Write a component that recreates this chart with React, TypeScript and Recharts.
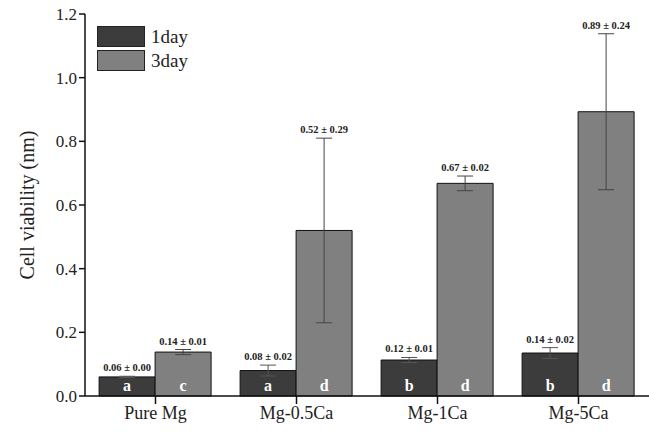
import React from 'react';
import { BarChart, Bar, XAxis, YAxis, ErrorBar, LabelList, Label } from 'recharts';

const categories = ['Pure Mg', 'Mg-0.5Ca', 'Mg-1Ca', 'Mg-5Ca'];
const day1 = [0.06, 0.08, 0.113, 0.135];
const day3 = [0.138, 0.52, 0.668, 0.893];
const err1 = [0.002, 0.017, 0.008, 0.017];
const err3 = [0.008, 0.29, 0.023, 0.245];
const text1 = ['0.06 ± 0.00', '0.08 ± 0.02', '0.12 ± 0.01', '0.14 ± 0.02'];
const text3 = ['0.14 ± 0.01', '0.52 ± 0.29', '0.67 ± 0.02', '0.89 ± 0.24'];
const letters1 = ['a', 'a', 'b', 'b'];
const letters3 = ['c', 'd', 'd', 'd'];
const yTicks = [0, 0.2, 0.4, 0.6, 0.8, 1.0, 1.2];
const seriesNames = ['1day', '3day'];

const data = categories.map((c, i) => ({
  name: c,
  d1: day1[i],
  d3: day3[i],
  e1: err1[i],
  e3: err3[i],
}));

const FONT = '"Liberation Serif", "Times New Roman", serif';
const C1 = '#3c3c3c';
const C3 = '#808080';

const makeTopLabel = (errs: number[], texts: string[]) => (props: any) => {
  const { x, y, width, height, value, index } = props;
  const pxPerUnit = value ? height / value : 0;
  const yTop = y - errs[index] * pxPerUnit;
  return (
    <text x={x + width / 2} y={yTop - 5} textAnchor="middle" fontFamily={FONT} fontWeight="bold" fontSize={10.5} fill="#222">
      {texts[index]}
    </text>
  );
};

const makeLetter = (letters: string[]) => (props: any) => {
  const { x, y, width, height, index } = props;
  return (
    <text x={x + width / 2} y={y + height - 5} textAnchor="middle" fontFamily={FONT} fontWeight="bold" fontSize={16} fill="#ffffff">
      {letters[index]}
    </text>
  );
};

const LegendBox = () => (
  <div style={{ position: 'absolute', left: 97, top: 24, fontFamily: FONT, fontSize: 19, color: '#222', lineHeight: '23px' }}>
    {[C1, C3].map((c, i) => (
      <div key={i} style={{ display: 'flex', alignItems: 'center', height: 24 }}>
        <div style={{ width: 48, height: 21, background: c, border: '1px solid #222', marginRight: 6, boxSizing: 'border-box' }} />
        <span>{seriesNames[i]}</span>
      </div>
    ))}
  </div>
);

export default function App() {
  return (
    <div style={{ position: 'absolute', left: 0, top: 0, width: 659, height: 432, background: '#fff' }}>
      <BarChart
        width={659}
        height={432}
        data={data}
        margin={{ top: 14, right: 10, bottom: 6, left: 0 }}
        barCategoryGap="10%"
        barGap={0}
      >
        <XAxis
          dataKey="name"
          height={30}
          axisLine={{ stroke: '#111', strokeWidth: 1.5 }}
          tickLine={{ stroke: '#111', strokeWidth: 1.5 }}
          tickSize={8}
          tick={{ fontFamily: FONT, fontSize: 18, fill: '#222' }}
        />
        <XAxis xAxisId="top" orientation="top" dataKey="name" height={0} tick={false} tickLine={false} axisLine={{ stroke: '#111', strokeWidth: 1.5 }} />
        <YAxis
          width={85}
          domain={[0, 1.2]}
          ticks={yTicks}
          tickFormatter={(v: number) => v.toFixed(1)}
          axisLine={{ stroke: '#111', strokeWidth: 1.5 }}
          tickLine={{ stroke: '#111', strokeWidth: 1.5 }}
          tickSize={6}
          tick={{ fontFamily: FONT, fontSize: 17, fill: '#222' }}
        >
          <Label value="Cell viability (nm)" angle={-90} position="insideLeft" offset={27} style={{ fontFamily: FONT, fontSize: 20, fill: '#222', textAnchor: 'middle' }} />
        </YAxis>
        <YAxis yAxisId="right" orientation="right" width={0} tick={false} tickLine={false} axisLine={{ stroke: '#111', strokeWidth: 1.5 }} />
        <Bar dataKey="d1" name={seriesNames[0]} fill={C1} stroke="#111" strokeWidth={1} isAnimationActive={false}>
          <ErrorBar dataKey="e1" width={8} stroke="#555" strokeWidth={1} direction="y" />
          <LabelList dataKey="d1" content={makeTopLabel(err1, text1)} />
          <LabelList dataKey="d1" content={makeLetter(letters1)} />
        </Bar>
        <Bar dataKey="d3" name={seriesNames[1]} fill={C3} stroke="#111" strokeWidth={1} isAnimationActive={false}>
          <ErrorBar dataKey="e3" width={8} stroke="#444" strokeWidth={1} direction="y" />
          <LabelList dataKey="d3" content={makeTopLabel(err3, text3)} />
          <LabelList dataKey="d3" content={makeLetter(letters3)} />
        </Bar>
      </BarChart>
      <LegendBox />
    </div>
  );
}
